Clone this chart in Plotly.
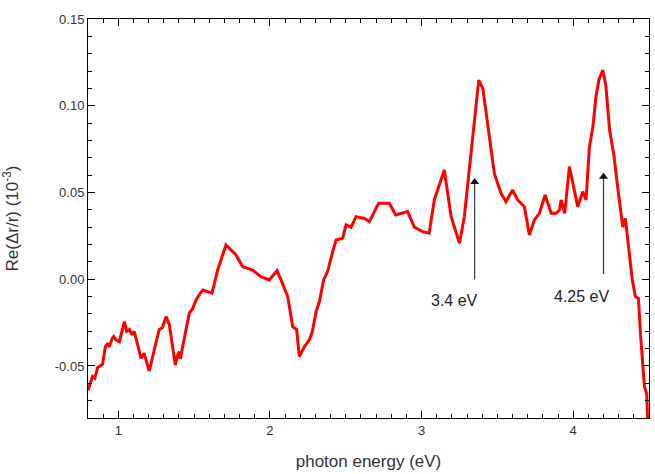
import plotly.graph_objects as go

energy = [0.80, 0.815, 0.83, 0.845, 0.863, 0.88, 0.896, 0.914, 0.93, 0.94, 0.952, 0.96, 0.97, 0.985, 1.007,
          1.04, 1.055, 1.073, 1.09, 1.105, 1.15, 1.17, 1.204, 1.237, 1.25,
          1.27, 1.29, 1.315, 1.336, 1.376, 1.39, 1.402, 1.41, 1.424, 1.468, 1.49,
          1.512, 1.556, 1.59, 1.618, 1.655, 1.71, 1.776, 1.82, 1.886, 1.94,
          1.996, 2.047, 2.073, 2.117, 2.15, 2.176, 2.194, 2.227, 2.26, 2.28,
          2.304, 2.326, 2.354, 2.38, 2.414, 2.436, 2.48, 2.502, 2.535, 2.568,
          2.623, 2.656, 2.689, 2.717, 2.787, 2.83, 2.908, 2.952, 3.007, 3.05,
          3.084, 3.15, 3.195, 3.25, 3.282, 3.327, 3.35, 3.377, 3.404, 3.447,
          3.48, 3.524, 3.557, 3.60, 3.634, 3.678, 3.711, 3.744, 3.777, 3.815,
          3.855, 3.888, 3.91, 3.92, 3.944, 3.975, 3.997, 4.03, 4.063, 4.085, 4.107,
          4.13, 4.15, 4.17, 4.195, 4.215, 4.24, 4.27, 4.29, 4.327, 4.344, 4.37,
          4.39, 4.41, 4.43, 4.445, 4.47, 4.485, 4.49, 4.50]
re_signal = [-0.064, -0.060, -0.056, -0.057, -0.051, -0.050, -0.049, -0.039, -0.037, -0.039, -0.036, -0.034, -0.033, -0.035, -0.036,
             -0.0245, -0.030, -0.029, -0.032, -0.030, -0.0456, -0.0427, -0.053, -0.040, -0.036,
             -0.029, -0.028, -0.0216, -0.026, -0.0494, -0.044, -0.0418, -0.046, -0.039, -0.0196, -0.017,
             -0.012, -0.0062, -0.0072, -0.008, 0.0053, 0.0197, 0.014, 0.0072, 0.0053, 0.0015,
             -0.0004, 0.005, -0.0004, -0.010, -0.0273, -0.029, -0.0446, -0.0389, -0.035, -0.030,
             -0.0187, -0.013, -0.0004, 0.0044, 0.0159, 0.0226, 0.0236, 0.0313, 0.030, 0.036,
             0.035, 0.0332, 0.039, 0.0438, 0.0438, 0.037, 0.039, 0.030, 0.0274, 0.0265,
             0.0457, 0.063, 0.036, 0.0207, 0.036, 0.0745, 0.0957, 0.1148, 0.110, 0.084,
             0.061, 0.0495, 0.0447, 0.0514, 0.0457, 0.0418, 0.0255, 0.0342, 0.038, 0.0486,
             0.038, 0.038, 0.040, 0.0457, 0.038, 0.0649, 0.0553, 0.0418, 0.0505, 0.0457, 0.0764,
             0.088, 0.105, 0.115, 0.1206, 0.112, 0.086, 0.0706, 0.0553, 0.030, 0.0351, 0.0169,
             -0.0004, -0.010, -0.011, -0.033, -0.062, -0.066, -0.079, -0.085]

x_range = [0.8, 4.5]
y_range = [-0.08, 0.15]
x_tick_step = 1
x_minor_step = 0.1
y_tick_step = 0.05
y_minor_step = 0.01

peak_labels = ["3.4 eV", "4.25 eV"]
arrow_x = [3.35, 4.20]
arrow_tail_y = [0.0, 0.003]
arrow_head_y = [0.056, 0.059]
label_x = [3.216, 4.054]
label_y = [-0.012, -0.010]

font_family = "Liberation Sans, Arial, sans-serif"

fig = go.Figure()
# invisible copy on the overlay axes so the fine (minor) tick axes get drawn
fig.add_trace(go.Scatter(x=energy, y=re_signal, mode="lines", xaxis="x2", yaxis="y2",
                         line=dict(color="rgba(0,0,0,0)", width=0),
                         showlegend=False, hoverinfo="skip"))
fig.add_trace(go.Scatter(x=energy, y=re_signal, mode="lines",
                         line=dict(color="#ff0000", width=3),
                         showlegend=False, hoverinfo="skip"))

for i in range(len(peak_labels)):
    fig.add_trace(go.Scatter(x=[arrow_x[i], arrow_x[i]], y=[arrow_tail_y[i], arrow_head_y[i]],
                             mode="lines", line=dict(color="#333333", width=1.2),
                             showlegend=False, hoverinfo="skip"))
    fig.add_trace(go.Scatter(x=[arrow_x[i]], y=[arrow_head_y[i]], mode="markers",
                             marker=dict(symbol="triangle-up", size=8, color="#111111"),
                             showlegend=False, hoverinfo="skip"))
    fig.add_annotation(x=label_x[i], y=label_y[i], xref="x", yref="y",
                       text=peak_labels[i], showarrow=False,
                       font=dict(family=font_family, size=16, color="#222222"))

axis_common = dict(showline=True, linecolor="black", mirror="ticks",
                   ticks="inside", ticklen=7, tickcolor="black",
                   zeroline=False,
                   tickfont=dict(family=font_family, size=13, color="#333333"))

fine_common = dict(showline=True, linecolor="black", mirror="ticks",
                   ticks="inside", ticklen=4, tickcolor="black",
                   zeroline=False, showgrid=False, showticklabels=False)

fig.update_layout(
    xaxis=dict(range=x_range, dtick=x_tick_step,
               title=dict(text="photon energy (eV)", standoff=18,
                          font=dict(family=font_family, size=17, color="#333333")),
               **axis_common),
    yaxis=dict(range=y_range, dtick=y_tick_step,
               tickformat=".2f", labelalias={"\u22120.05": "-0.05"},
               title=dict(text="Re(Δr/r) (10<sup>-3</sup>)", standoff=34,
                          font=dict(family=font_family, size=17, color="#333333")),
               **axis_common),
    xaxis2=dict(range=x_range, dtick=x_minor_step, tick0=0, overlaying="x",
                anchor="y2", side="bottom", **fine_common),
    yaxis2=dict(range=y_range, dtick=y_minor_step, tick0=0, overlaying="y",
                anchor="x2", side="left", **fine_common),
    width=655, height=474, margin=dict(l=88, r=6, t=19, b=56),
    plot_bgcolor="white", paper_bgcolor="white")

fig.write_html("out.html")
